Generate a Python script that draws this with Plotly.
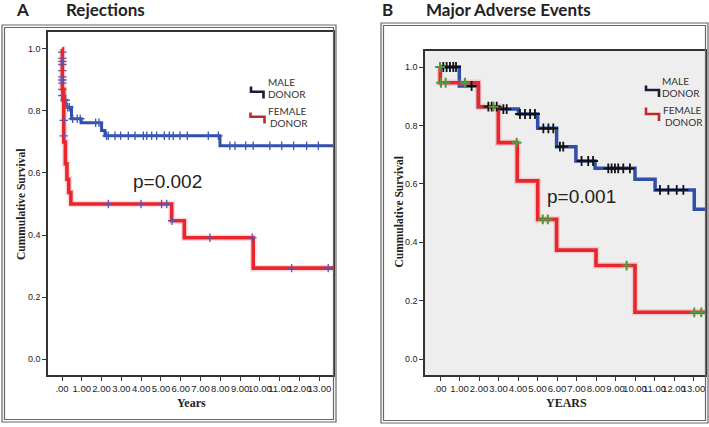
import numpy as np
import plotly.graph_objects as go

W, H = 709, 427

# ---------------- Data ----------------
x_tick_vals = list(range(0, 14))
x_tick_text = [".00"] + [f"{v}.00" for v in range(1, 14)]
y_tick_vals = [0.0, 0.2, 0.4, 0.6, 0.8, 1.0]
y_tick_text = ["0.0", "0.2", "0.4", "0.6", "0.8", "1.0"]

# Panel A - Rejections (Kaplan-Meier steps)
a_male_t = [0, 0.02, 0.20, 0.48, 0.97, 2.00, 2.17, 7.98, 13.69]
a_male_s = [1.0, 0.835, 0.812, 0.775, 0.762, 0.737, 0.720, 0.688, 0.688]
a_fem_t = [0, 0.02, 0.09, 0.17, 0.25, 0.34, 0.45, 5.54, 6.18, 9.66, 13.69]
a_fem_s = [1.0, 0.87, 0.70, 0.63, 0.58, 0.537, 0.50, 0.446, 0.391, 0.293, 0.293]

# censored observations, panel A
a_male_early_t = [0.02, 0.02, 0.02, 0.02, 0.02, 0.02, 0.02, 0.02]
a_male_early_s = [0.99, 0.97, 0.95, 0.93, 0.91, 0.89, 0.87, 0.85]
a_male_cens_t = [0.12, 0.19, 0.29, 0.37, 0.54, 0.77, 0.92, 1.70, 1.87, 2.25, 2.34,
                 2.68, 2.96, 3.35, 3.69, 4.11, 4.28, 4.53, 4.78, 5.17, 5.42, 5.62,
                 5.96, 6.33, 7.39, 7.90, 8.48, 8.74, 9.28, 9.66, 10.5, 11.1, 11.7,
                 12.36, 12.95]
a_fem_early_t = [0.02, 0.02, 0.09, 0.09]
a_fem_early_s = [0.96, 0.90, 0.77, 0.72]
a_fem_cens_t = [2.34, 3.99, 5.03, 5.29, 5.56, 7.47, 9.61, 11.6, 13.45]

# Panel B - Major Adverse Events
b_male_t = [0, 0.99, 1.97, 2.99, 4.02, 5.01, 5.98, 6.97, 7.95, 10.0, 11.03, 13.04, 13.59]
b_male_s = [1.0, 0.935, 0.864, 0.856, 0.839, 0.79, 0.727, 0.678, 0.653, 0.616, 0.579, 0.513, 0.513]
b_fem_t = [0, 0.01, 1.97, 2.99, 3.96, 5.01, 5.98, 8.0, 10.0, 13.59]
b_fem_s = [1.0, 0.946, 0.864, 0.741, 0.61, 0.478, 0.373, 0.32, 0.16, 0.16]

b_male_cens_t = [0.17, 0.34, 0.51, 0.68, 0.82, 1.62, 2.48, 2.65, 2.91, 3.25, 3.42,
                 4.10, 4.36, 4.62, 4.87, 5.30, 5.56, 5.81, 6.15, 6.32, 7.26, 7.60,
                 7.85, 8.63, 8.80, 8.97, 9.14, 9.40, 9.74, 11.28, 11.71, 12.14, 12.48]
b_fem_cens_t = [0.0, 0.05, 0.29, 1.28, 2.74, 3.93, 5.27, 5.53, 9.57, 13.04, 13.4]


def surv_at(times, step_t, step_s):
    idx = np.searchsorted(np.array(step_t), np.array(times), side="right") - 1
    return list(np.array(step_s)[idx])


# ---------------- Figure ----------------
def px(x):
    return x / W


def py(y):
    return 1 - y / H


BLUE = "#2f4fa8"
RED = "#e8262c"
HALO = "rgba(240,120,130,0.28)"

fig = go.Figure()

# Panel A
fig.add_trace(go.Scatter(x=a_male_t, y=a_male_s, mode="lines", line_shape="hv",
                         line=dict(color=BLUE, width=3), xaxis="x", yaxis="y"))
fig.add_trace(go.Scatter(x=a_male_early_t + a_male_cens_t,
                         y=a_male_early_s + surv_at(a_male_cens_t, a_male_t, a_male_s),
                         mode="markers", xaxis="x", yaxis="y",
                         marker=dict(symbol="cross-thin", size=6,
                                     line=dict(color="#3b56b8", width=1.3))))
fig.add_trace(go.Scatter(x=a_fem_t, y=a_fem_s, mode="lines", line_shape="hv",
                         line=dict(color=HALO, width=6.5), xaxis="x", yaxis="y"))
fig.add_trace(go.Scatter(x=a_fem_t, y=a_fem_s, mode="lines", line_shape="hv",
                         line=dict(color=RED, width=3.6), xaxis="x", yaxis="y"))
fig.add_trace(go.Scatter(x=a_fem_early_t + a_fem_cens_t,
                         y=a_fem_early_s + surv_at(a_fem_cens_t, a_fem_t, a_fem_s),
                         mode="markers", xaxis="x", yaxis="y",
                         marker=dict(symbol="cross-thin", size=6,
                                     line=dict(color="#5a55b5", width=1.3))))

# Panel B
fig.add_trace(go.Scatter(x=b_male_t, y=b_male_s, mode="lines", line_shape="hv",
                         line=dict(color=BLUE, width=3.5), xaxis="x2", yaxis="y2"))
fig.add_trace(go.Scatter(x=b_fem_t, y=b_fem_s, mode="lines", line_shape="hv",
                         line=dict(color=HALO, width=6.5), xaxis="x2", yaxis="y2"))
fig.add_trace(go.Scatter(x=b_fem_t, y=b_fem_s, mode="lines", line_shape="hv",
                         line=dict(color=RED, width=3.6), xaxis="x2", yaxis="y2"))
fig.add_trace(go.Scatter(x=b_male_cens_t, y=surv_at(b_male_cens_t, b_male_t, b_male_s),
                         mode="markers", xaxis="x2", yaxis="y2",
                         marker=dict(symbol="cross-thin", size=7,
                                     line=dict(color="#111111", width=1.8))))
fig.add_trace(go.Scatter(x=b_fem_cens_t, y=surv_at(b_fem_cens_t, b_fem_t, b_fem_s),
                         mode="markers", xaxis="x2", yaxis="y2",
                         marker=dict(symbol="cross-thin", size=7,
                                     line=dict(color="#4f9a3c", width=2))))

axis_common = dict(showgrid=False, zeroline=False, showline=True, linecolor="#333333",
                   linewidth=1.5, mirror=True, ticks="outside", ticklen=4,
                   tickcolor="#333333", tickwidth=1)
xfont = dict(family="Liberation Sans Narrow, Liberation Sans, Arial", size=9.5, color="#222222")
yfont = dict(family="Liberation Sans, Arial", size=9, color="#222222")

fig.update_layout(
    width=W, height=H, margin=dict(l=0, r=0, t=0, b=0),
    paper_bgcolor="white", plot_bgcolor="rgba(0,0,0,0)", showlegend=False,
    xaxis=dict(domain=[px(48), px(333)], range=[-0.707, 13.69], tickvals=x_tick_vals,
               ticktext=x_tick_text, tickangle=0, tickfont=xfont, anchor="y", **axis_common),
    yaxis=dict(domain=[py(375), py(32)], range=[-0.0516, 1.0548], tickvals=y_tick_vals,
               ticktext=y_tick_text, tickfont=yfont, anchor="x", **axis_common),
    xaxis2=dict(domain=[px(425), px(705)], range=[-0.769, 13.59], tickvals=x_tick_vals,
                ticktext=x_tick_text, tickangle=0, tickfont=xfont, anchor="y2", **axis_common),
    yaxis2=dict(domain=[py(375), py(51)], range=[-0.0548, 1.0548], tickvals=y_tick_vals,
                ticktext=y_tick_text, tickfont=yfont, anchor="x2", **axis_common),
)

shapes = []
# gray background of panel B plot area
shapes.append(dict(type="rect", xref="x2 domain", yref="y2 domain", x0=0, x1=1, y0=0, y1=1,
                   fillcolor="#eeeeee", line=dict(width=0), layer="below"))
# double outer frames
for (x0, y0, x1, y1) in [(2, 25, 336, 422), (4.5, 27.5, 333.5, 419.5),
                         (381, 23, 708, 423), (383.5, 25.5, 705.5, 420.5)]:
    shapes.append(dict(type="rect", xref="paper", yref="paper",
                       x0=px(x0), x1=px(x1), y0=py(y1), y1=py(y0),
                       line=dict(color="#666666", width=1.2), layer="above"))


def step_glyph(pts, color):
    d = "M " + " L ".join(f"{px(x):.5f},{py(y):.5f}" for x, y in pts)
    return dict(type="path", xref="paper", yref="paper", path=d,
                line=dict(color=color, width=2.6))


shapes.append(step_glyph([(251, 86.5), (251, 91.7), (263.5, 91.7), (263.5, 98.5)], "#1b1b3a"))
shapes.append(step_glyph([(250.5, 112.5), (250.5, 116.7), (264.5, 116.7), (264.5, 123.5)], "#c0282d"))
shapes.append(step_glyph([(646, 85.5), (646, 90), (659, 90), (659, 97)], "#1b1b3a"))
shapes.append(step_glyph([(646, 107.5), (646, 114), (659, 114), (659, 121)], "#c0282d"))
fig.update_layout(shapes=shapes)

ann = []


def add_text(text, x, y, size, family, color="#222222", xanchor="center", angle=0, bold=False):
    t = f"<b>{text}</b>" if bold else text
    ann.append(dict(text=t, x=px(x), y=py(y), xref="paper", yref="paper", showarrow=False,
                    xanchor=xanchor, yanchor="middle", textangle=angle,
                    font=dict(size=size, family=family, color=color)))


title_font = "Lato, Open Sans, Liberation Sans"
add_text("A", 22.5, 9.5, 17, title_font, "#222222", bold=True)
add_text("Rejections", 64, 9.5, 17, title_font, "#222222", xanchor="left", bold=True)
add_text("B", 387.5, 9.5, 17, title_font, "#222222", bold=True)
add_text("Major Adverse Events", 424, 9.5, 17, title_font, "#222222", xanchor="left", bold=True)

serif = "Liberation Serif, Times New Roman, serif"
add_text("Cummulative Survival", 21, 204, 11.5, serif, "#222222", angle=-90, bold=True)
add_text("Cummulative Survival", 398.5, 212, 11.5, serif, "#222222", angle=-90, bold=True)
add_text("Years", 191, 403, 12, serif, "#222222", bold=True)
add_text("YEARS", 566.5, 403, 12, serif, "#222222", bold=True)

sans = "Liberation Sans, Arial"
add_text("p=0.002", 167.5, 181, 19, sans, "#222222")
add_text("p=0.001", 581, 196, 19, sans, "#222222")

leg_font = "Lato, Open Sans, Liberation Sans"
add_text("MALE", 265.5, 82, 10, leg_font, "#333333", xanchor="left")
add_text("DONOR", 265.5, 94, 10, leg_font, "#333333", xanchor="left")
add_text("FEMALE", 265.5, 111, 10, leg_font, "#333333", xanchor="left")
add_text("DONOR", 268, 123, 10, leg_font, "#333333", xanchor="left")
add_text("MALE", 660, 81, 10, leg_font, "#333333", xanchor="left")
add_text("DONOR", 660, 93, 10, leg_font, "#333333", xanchor="left")
add_text("FEMALE", 660.5, 110, 10, leg_font, "#333333", xanchor="left")
add_text("DONOR", 663, 122, 10, leg_font, "#333333", xanchor="left")

fig.update_layout(annotations=ann)

fig.write_html("out.html", config={"displayModeBar": False})

# remove the browser's default page margin so the figure sits at the window origin
with open("out.html", "r", encoding="utf-8") as f:
    html = f.read()
html = html.replace("<head>", "<head><style>html,body{margin:0;padding:0;overflow:hidden;}</style>", 1)
with open("out.html", "w", encoding="utf-8") as f:
    f.write(html)
